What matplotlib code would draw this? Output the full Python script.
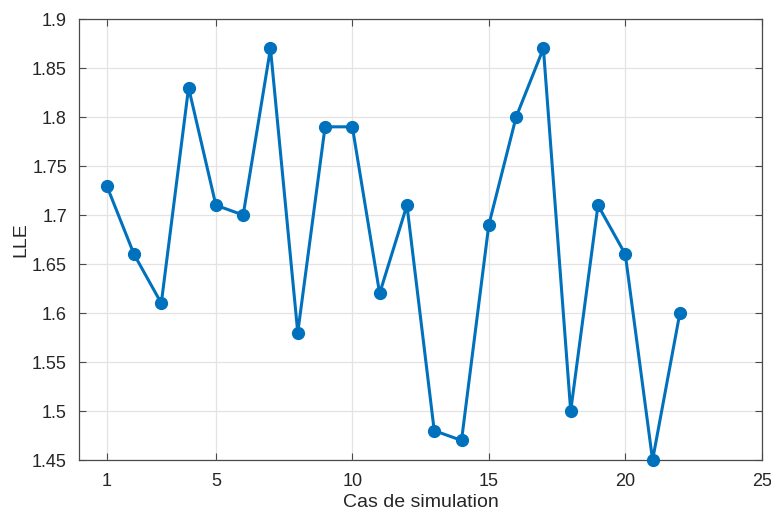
import matplotlib
matplotlib.use('Agg')
import matplotlib.pyplot as plt

# simulation cases and their LLE values
cases = list(range(1, 23))
lle = [1.73, 1.66, 1.61, 1.83, 1.71, 1.70, 1.87, 1.58, 1.79, 1.79, 1.62,
       1.71, 1.48, 1.47, 1.69, 1.80, 1.87, 1.50, 1.71, 1.66, 1.45, 1.60]
xticks = [1, 5, 10, 15, 20, 25]
yticks = [1.45, 1.5, 1.55, 1.6, 1.65, 1.7, 1.75, 1.8, 1.85, 1.9]

plt.rcParams['font.family'] = ['Liberation Sans', 'DejaVu Sans']

fig = plt.figure(figsize=(7.71, 5.14), dpi=100)
ax = fig.add_axes([0.103, 0.105, 0.885, 0.858])

ax.plot(cases, lle, color='#0072BD', lw=2.2, marker='o', ms=8.5, zorder=3, clip_on=False)

ax.set_xlim(0, 25)
ax.set_ylim(1.45, 1.9)
ax.set_xticks(xticks)
ax.set_yticks(yticks)
ax.set_yticklabels(['1.45', '1.5', '1.55', '1.6', '1.65', '1.7', '1.75', '1.8', '1.85', '1.9'])

ax.grid(True, color='#e3e3e3', lw=0.9)
ax.set_axisbelow(True)
for s in ax.spines.values():
    s.set_color('#4a4a4a')
    s.set_linewidth(0.9)
ax.tick_params(direction='in', length=5, width=0.8, colors='#4a4a4a', labelcolor='#262626',
               top=True, right=True, labelsize=13, pad=9)

ax.set_xlabel('Cas de simulation', fontsize=14, color='#262626', labelpad=3)
ax.set_ylabel('LLE', fontsize=14, color='#262626', labelpad=2)

fig.savefig('out.png', dpi=100)
